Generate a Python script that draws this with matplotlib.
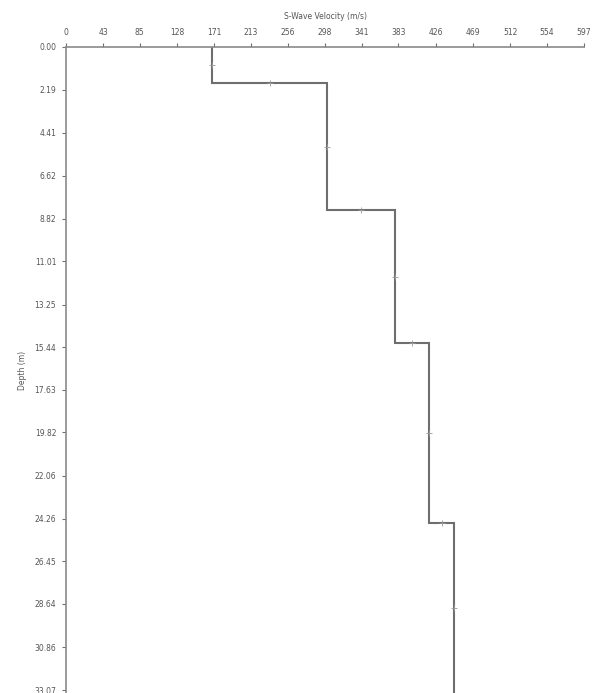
import matplotlib.pyplot as plt

# layered shear-wave velocity profile
layer_top = [0.00, 1.87, 8.38, 15.23, 24.50]
layer_bottom = [1.87, 8.38, 15.23, 24.50, 33.22]
layer_vs = [168.6, 300.5, 379.7, 418.4, 447.5]

x_ticks = [0, 43, 85, 128, 171, 213, 256, 298, 341, 383, 426, 469, 512, 554, 597]
y_ticks = [0.00, 2.19, 4.41, 6.62, 8.82, 11.01, 13.25, 15.44, 17.63,
           19.82, 22.06, 24.26, 26.45, 28.64, 30.86, 33.07]

line_color = '#6e6e6e'
text_color = '#555555'

fig = plt.figure(figsize=(5.92, 6.93), dpi=100)
ax = fig.add_axes([66 / 592, 0.0, (584 - 66) / 592, 1 - 47 / 693])

# build the staircase from the layer table
xs, ys = [], []
for top, bot, vs in zip(layer_top, layer_bottom, layer_vs):
    xs += [vs, vs]
    ys += [top, bot]
ax.plot(xs, ys, color=line_color, linewidth=1.5, solid_joinstyle='miter')

# small marks at the middle of every segment
mx, my = [], []
for i in range(len(xs) - 1):
    mx.append((xs[i] + xs[i + 1]) / 2)
    my.append((ys[i] + ys[i + 1]) / 2)
ax.plot(mx, my, linestyle='none', marker='+', markersize=4,
        markeredgewidth=0.6, color='#999999')

ax.set_xlim(0, 597)
ax.set_ylim(33.22, 0)

ax.xaxis.tick_top()
ax.xaxis.set_label_position('top')
ax.set_xticks(x_ticks)
ax.set_xticklabels([str(v) for v in x_ticks])
ax.set_yticks(y_ticks)
ax.set_yticklabels([f'{v:.2f}' for v in y_ticks])

ax.tick_params(axis='both', direction='out', length=3, width=0.8,
               colors=line_color, labelcolor=text_color, labelsize=5.5, pad=4)

for side in ['right', 'bottom']:
    ax.spines[side].set_visible(False)
for side in ['top', 'left']:
    ax.spines[side].set_color('#8a8a8a')
    ax.spines[side].set_linewidth(1.2)

ax.set_xlabel('S-Wave Velocity (m/s)', fontsize=5.5, color=text_color, labelpad=7)
ax.set_ylabel('Depth (m)', fontsize=5.5, color=text_color, labelpad=5)

fig.savefig('out.png', dpi=100)
